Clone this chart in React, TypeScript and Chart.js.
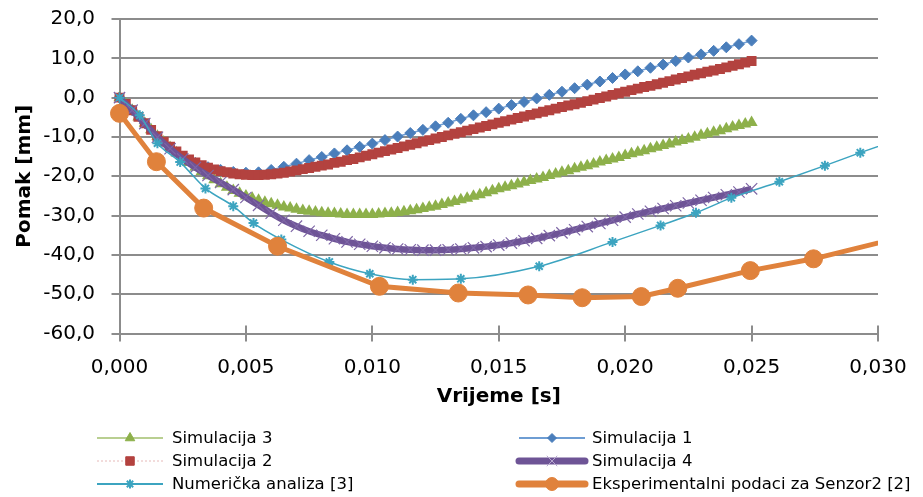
import React, { useEffect, useRef } from 'react';
import { Chart, registerables } from 'chart.js';
import { drawPoint } from 'chart.js/helpers';

Chart.register(...registerables);

const FONT = '"DejaVu Sans", sans-serif';

// ---- axis ranges / ticks ----
const X_MIN = 0;
const X_MAX = 0.03;
const X_STEP = 0.005;
const Y_MIN = -60;
const Y_MAX = 20;
const Y_STEP = 10;

const X_TITLE = 'Vrijeme [s]';
const Y_TITLE = 'Pomak [mm]';

// ---- sampling times ----
const tFine = Array.from({ length: 101 }, (_, i) => +(i * 0.00025).toFixed(5)); // Sim 2, Sim 3
const tCoarse = Array.from({ length: 51 }, (_, i) => +(i * 0.0005).toFixed(4)); // Sim 1, Sim 4

// ---- series values ----
const sim3Values = [
  0.0, -1.6, -3.2, -4.9, -6.5, -8.2, -9.8, -11.3, -12.7, -14.0,
  -15.3, -16.5, -17.7, -18.8, -19.9, -20.9, -21.9, -22.8, -23.6, -24.3,
  -25.0, -25.6, -26.1, -26.6, -27.0, -27.4, -27.8, -28.1, -28.4, -28.7,
  -28.9, -29.1, -29.3, -29.4, -29.5, -29.6, -29.7, -29.7, -29.7, -29.7,
  -29.7, -29.6, -29.5, -29.4, -29.2, -29.0, -28.8, -28.5, -28.2, -27.9,
  -27.6, -27.2, -26.8, -26.4, -26.0, -25.6, -25.1, -24.7, -24.2, -23.7,
  -23.2, -22.8, -22.4, -22.0, -21.5, -21.1, -20.7, -20.3, -19.8, -19.4,
  -19.0, -18.6, -18.1, -17.7, -17.3, -16.9, -16.4, -16.0, -15.6, -15.2,
  -14.7, -14.3, -13.9, -13.5, -13.0, -12.6, -12.2, -11.8, -11.3, -10.9,
  -10.5, -10.1, -9.6, -9.2, -8.8, -8.4, -7.9, -7.5, -7.1, -6.7,
  -6.3,
];

const sim2Values = [
  0.0, -1.6, -3.2, -4.9, -6.5, -8.2, -9.8, -11.2, -12.5, -13.7,
  -14.8, -15.7, -16.5, -17.2, -17.8, -18.3, -18.7, -19.0, -19.3, -19.5,
  -19.6, -19.7, -19.7, -19.6, -19.5, -19.3, -19.1, -18.8, -18.5, -18.2,
  -17.9, -17.6, -17.3, -17.0, -16.6, -16.3, -15.9, -15.6, -15.2, -14.8,
  -14.4, -14.0, -13.6, -13.2, -12.8, -12.4, -12.0, -11.6, -11.2, -10.8,
  -10.4, -10.0, -9.6, -9.2, -8.8, -8.4, -8.0, -7.6, -7.2, -6.8,
  -6.4, -6.0, -5.6, -5.2, -4.8, -4.4, -4.0, -3.6, -3.2, -2.8,
  -2.4, -2.0, -1.7, -1.3, -0.9, -0.5, -0.1, 0.3, 0.7, 1.1,
  1.5, 1.9, 2.3, 2.7, 3.0, 3.4, 3.8, 4.2, 4.6, 5.0,
  5.4, 5.8, 6.2, 6.6, 6.9, 7.3, 7.7, 8.1, 8.5, 8.9,
  9.3,
];

const sim1Values = [
  0.0, -3.2, -6.5, -10.0, -12.8, -15.0, -16.6, -17.7, -18.4, -18.9,
  -19.1, -19.0, -18.4, -17.6, -16.8, -15.9, -15.1, -14.2, -13.4, -12.5,
  -11.7, -10.8, -9.9, -9.0, -8.2, -7.3, -6.4, -5.4, -4.5, -3.7,
  -2.8, -1.9, -1.1, -0.2, 0.7, 1.5, 2.4, 3.3, 4.1, 5.0,
  5.9, 6.7, 7.6, 8.4, 9.3, 10.2, 11.0, 11.9, 12.8, 13.6,
  14.5,
];

const sim4Values = [
  0.0, -3.2, -6.6, -10.1, -13.0, -15.6, -17.8, -19.8, -21.6, -23.4,
  -25.4, -27.4, -29.4, -31.2, -32.7, -34.0, -35.0, -35.9, -36.7, -37.3,
  -37.8, -38.2, -38.5, -38.7, -38.8, -38.8, -38.7, -38.5, -38.2, -37.9,
  -37.5, -37.0, -36.4, -35.8, -35.1, -34.4, -33.6, -32.8, -32.0, -31.2,
  -30.4, -29.6, -28.9, -28.2, -27.5, -26.8, -26.1, -25.4, -24.7, -24.0,
  -23.2,
];

const numTimes = [
  0.0, 0.0008, 0.0015, 0.0024, 0.0034, 0.0045, 0.0053, 0.0064, 0.0083, 0.0099,
  0.0116, 0.0135, 0.0166, 0.0195, 0.0214, 0.0228, 0.0242, 0.0261, 0.0279, 0.0293,
  0.0310,
];
const numValues = [
  0.0, -4.5, -11.6, -16.4, -23.1, -27.6, -31.9, -36.1, -41.8, -44.8,
  -46.3, -46.1, -42.9, -36.7, -32.5, -29.3, -25.5, -21.4, -17.3, -14.0,
  -10.2,
];

const expTimes = [
  0.0, 0.00146, 0.00333, 0.00625, 0.01028, 0.0134, 0.01616, 0.0183, 0.02064, 0.02208,
  0.02495, 0.02745, 0.031,
];
const expValues = [
  -4.0, -16.3, -28.1, -37.8, -48.0, -49.7, -50.2, -50.9, -50.6, -48.5,
  -44.0, -41.0, -35.4,
];

const LABEL_SIM3 = 'Simulacija 3';
const LABEL_SIM1 = 'Simulacija 1';
const LABEL_SIM2 = 'Simulacija 2';
const LABEL_SIM4 = 'Simulacija 4';
const LABEL_NUM = 'Numerička analiza [3]';
const LABEL_EXP = 'Eksperimentalni podaci za Senzor2 [2]';

const LEGEND_ORDER = [LABEL_SIM3, LABEL_SIM1, LABEL_SIM2, LABEL_SIM4, LABEL_NUM, LABEL_EXP];

const COLORS = {
  sim3: '#8DB04A',
  sim3Line: '#B9CF91',
  sim1: '#4A7EBB',
  sim1Line: '#6E9DD3',
  sim2: '#B3423F',
  sim2Line: '#E6B9B8',
  sim4: '#6E5496',
  sim4Marker: '#7E66A6',
  num: '#3CA4C0',
  exp: '#E0823C',
  grid: '#8C8C8C',
};

const LEGEND_STYLE: Record<string, any> = {
  [LABEL_SIM3]: { line: COLORS.sim3Line, width: 2, marker: COLORS.sim3, style: 'triangle', r: 5.5, bw: 1 },
  [LABEL_SIM1]: { line: COLORS.sim1Line, width: 2, marker: COLORS.sim1, style: 'rectRot', r: 4.5, bw: 1 },
  [LABEL_SIM2]: { line: COLORS.sim2Line, width: 1, dash: [2, 2], marker: COLORS.sim2, style: 'rect', r: 6, bw: 1 },
  [LABEL_SIM4]: { line: COLORS.sim4, width: 7, marker: '#B7A6D0', style: 'crossRot', r: 7, bw: 1 },
  [LABEL_NUM]: { line: COLORS.num, width: 2, marker: COLORS.num, style: 'star', r: 4.5, bw: 2 },
  [LABEL_EXP]: { line: COLORS.exp, width: 7, marker: COLORS.exp, style: 'circle', r: 6.5, bw: 1 },
};

const toXY = (xs: number[], ys: number[]) => xs.map((x, i) => ({ x, y: ys[i] }));

const innerTicksPlugin = {
  id: 'innerTicks',
  beforeDatasetsDraw(chart: any) {
    const xs = chart.scales.x;
    const ctx = chart.ctx;
    const bottom = chart.chartArea.bottom;
    ctx.save();
    ctx.strokeStyle = COLORS.grid;
    ctx.lineWidth = 2;
    xs.ticks.forEach((t: any) => {
      const px = Math.round(xs.getPixelForValue(t.value));
      ctx.beginPath();
      ctx.moveTo(px, bottom);
      ctx.lineTo(px, bottom - 8);
      ctx.stroke();
    });
    ctx.restore();
  },
};

const legendPlugin = {
  id: 'excelLegend',
  afterDraw(chart: any) {
    const ctx = chart.ctx;
    const cols = [
      { x1: 97, x2: 163, tx: 172 },
      { x1: 519, x2: 585, tx: 592 },
    ];
    const rows = [438, 461, 484];
    LEGEND_ORDER.forEach((label, i) => {
      const s = LEGEND_STYLE[label];
      const c = cols[i % 2];
      const y = rows[Math.floor(i / 2)];
      ctx.save();
      ctx.strokeStyle = s.line;
      ctx.lineWidth = s.width;
      ctx.lineCap = s.width > 3 ? 'round' : 'butt';
      ctx.setLineDash(s.dash || []);
      ctx.beginPath();
      ctx.moveTo(c.x1, y);
      ctx.lineTo(c.x2, y);
      ctx.stroke();
      ctx.setLineDash([]);
      ctx.fillStyle = s.marker;
      ctx.strokeStyle = s.marker;
      ctx.lineWidth = s.bw;
      drawPoint(ctx, { pointStyle: s.style, radius: s.r, borderWidth: s.bw, rotation: 0 } as any, (c.x1 + c.x2) / 2, y);
      ctx.fillStyle = '#000';
      ctx.font = `16.5px ${FONT}`;
      ctx.textBaseline = 'middle';
      ctx.textAlign = 'left';
      ctx.fillText(label, c.tx, y + 1);
      ctx.restore();
    });
  },
};

const edgeClip = { left: 20, top: 20, right: 0, bottom: 20 };

export default function App() {
  const ref = useRef<HTMLCanvasElement | null>(null);

  useEffect(() => {
    if (!ref.current) return;
    const chart = new Chart(ref.current, {
      type: 'line',
      data: {
        datasets: [
          {
            label: LABEL_EXP,
            data: toXY(expTimes, expValues),
            borderColor: COLORS.exp,
            backgroundColor: COLORS.exp,
            borderWidth: 5,
            pointStyle: 'circle',
            pointRadius: 9,
            pointBorderWidth: 1,
            pointBackgroundColor: COLORS.exp,
            pointBorderColor: COLORS.exp,
            tension: 0,
            clip: edgeClip,
          },
          {
            label: LABEL_NUM,
            data: toXY(numTimes, numValues),
            borderColor: COLORS.num,
            backgroundColor: COLORS.num,
            borderWidth: 1.5,
            pointStyle: 'star',
            pointRadius: 5,
            pointBorderWidth: 2,
            pointBorderColor: COLORS.num,
            pointBackgroundColor: COLORS.num,
            cubicInterpolationMode: 'monotone',
            clip: edgeClip,
          },
          {
            label: LABEL_SIM4,
            data: toXY(tCoarse, sim4Values),
            borderColor: COLORS.sim4,
            backgroundColor: COLORS.sim4,
            borderWidth: 6.5,
            pointStyle: 'crossRot',
            pointRadius: 8,
            pointBorderWidth: 1.2,
            pointBorderColor: COLORS.sim4Marker,
            tension: 0.3,
            clip: edgeClip,
          },
          {
            label: LABEL_SIM2,
            data: toXY(tFine, sim2Values),
            borderColor: COLORS.sim2Line,
            backgroundColor: COLORS.sim2,
            borderWidth: 1,
            borderDash: [2, 2],
            pointStyle: 'rect',
            pointRadius: 7,
            pointBorderWidth: 0,
            pointBackgroundColor: COLORS.sim2,
            pointBorderColor: COLORS.sim2,
            tension: 0,
            clip: edgeClip,
          },
          {
            label: LABEL_SIM1,
            data: toXY(tCoarse, sim1Values),
            borderColor: COLORS.sim1Line,
            backgroundColor: COLORS.sim1,
            borderWidth: 1.5,
            pointStyle: 'rectRot',
            pointRadius: 5.5,
            pointBorderWidth: 1,
            pointBackgroundColor: COLORS.sim1,
            pointBorderColor: COLORS.sim1,
            tension: 0.2,
            clip: edgeClip,
          },
          {
            label: LABEL_SIM3,
            data: toXY(tFine, sim3Values),
            borderColor: COLORS.sim3Line,
            backgroundColor: COLORS.sim3,
            borderWidth: 1.5,
            pointStyle: 'triangle',
            pointRadius: 7,
            pointBorderWidth: 0,
            pointBackgroundColor: COLORS.sim3,
            pointBorderColor: COLORS.sim3,
            tension: 0,
            clip: edgeClip,
          },
        ] as any,
      },
      options: {
        animation: false,
        responsive: false,
        events: [],
        layout: { padding: { left: 0, top: 19, right: 45, bottom: 88 } },
        plugins: {
          legend: { display: false },
          tooltip: { enabled: false },
        },
        scales: {
          x: {
            type: 'linear',
            min: X_MIN,
            max: X_MAX,
            afterFit: (s: any) => {
              s.height = 75.5;
            },
            ticks: {
              stepSize: X_STEP,
              autoSkip: false,
              maxRotation: 0,
              padding: 14.5,
              color: '#000',
              font: { family: FONT, size: 20 },
              callback: (v: any) => Number(v).toFixed(3).replace('.', ','),
            },
            grid: {
              drawOnChartArea: false,
              drawTicks: true,
              tickLength: 8,
              color: COLORS.grid,
              lineWidth: 2,
            },
            border: { display: true, color: COLORS.grid, width: 2 },
            title: {
              display: true,
              text: X_TITLE,
              color: '#000',
              font: { family: FONT, size: 20, weight: 'bold' },
              padding: 0,
            },
          },
          y: {
            type: 'linear',
            min: Y_MIN,
            max: Y_MAX,
            afterFit: (s: any) => {
              s.width = 119.5;
              s.paddingTop = 0;
              s.paddingBottom = 0;
            },
            ticks: {
              stepSize: Y_STEP,
              padding: 16.5,
              color: '#000',
              font: { family: FONT, size: 20 },
              callback: (v: any) => Number(v).toFixed(1).replace('.', ','),
            },
            grid: { color: COLORS.grid, lineWidth: 2, tickLength: 8 },
            border: { display: true, color: COLORS.grid, width: 2 },
            title: {
              display: true,
              text: Y_TITLE,
              color: '#000',
              font: { family: FONT, size: 20, weight: 'bold' },
              padding: { top: 13, bottom: 0 },
            },
          },
        },
      } as any,
      plugins: [innerTicksPlugin, legendPlugin],
    });
    return () => chart.destroy();
  }, []);

  return (
    <div style={{ position: 'fixed', left: 0, top: 0, width: 923, height: 497, background: '#fff' }}>
      <canvas ref={ref} width={923} height={497} style={{ display: 'block' }} />
    </div>
  );
}
